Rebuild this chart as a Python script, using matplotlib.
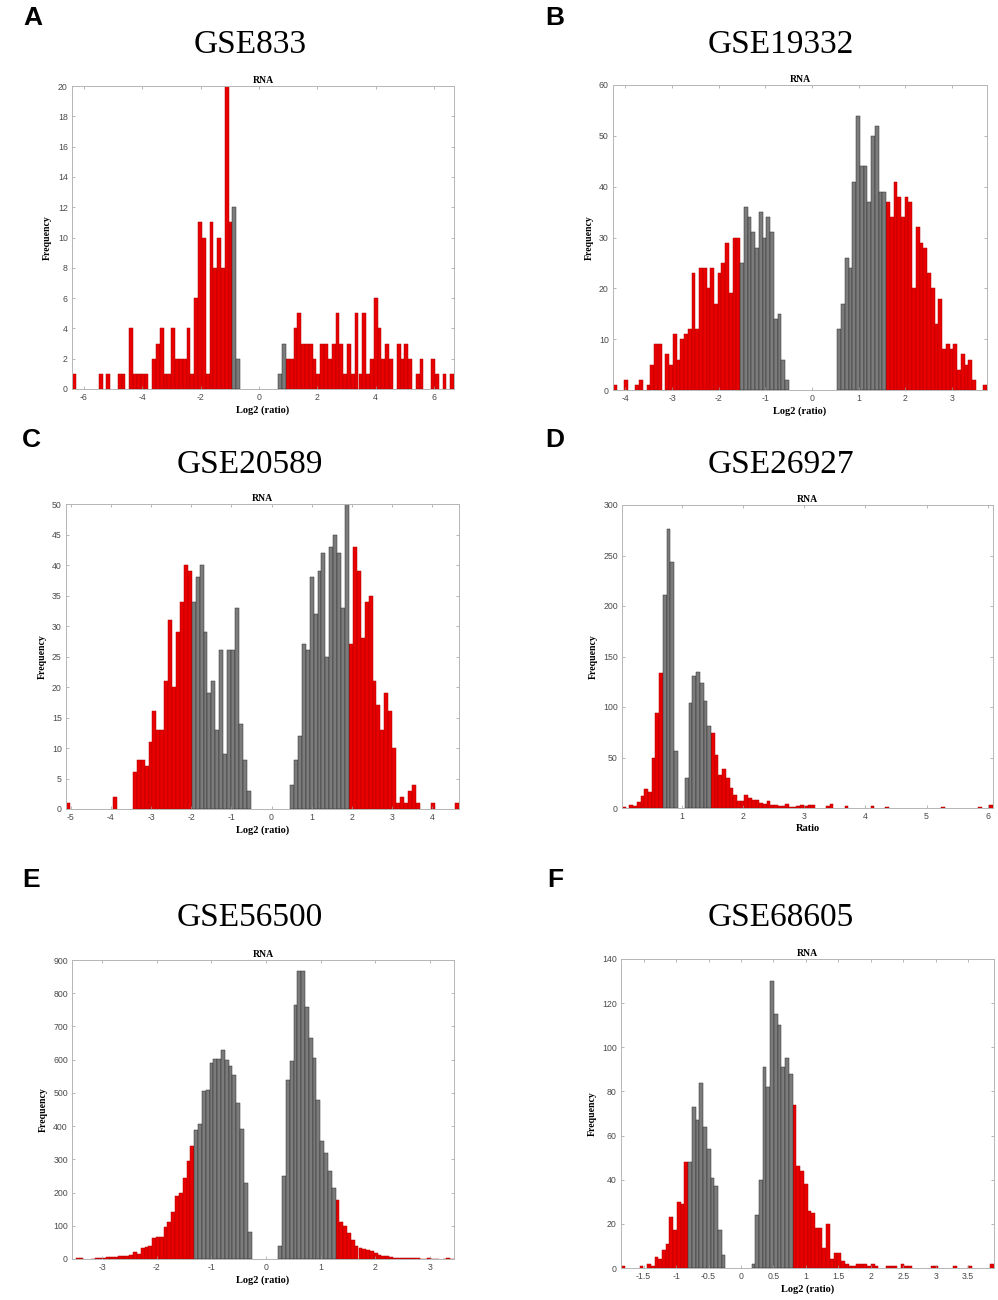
import numpy as np
import matplotlib
matplotlib.use("Agg")
import matplotlib.pyplot as plt

W, H = 998, 1300

# ---------------- data ----------------
panel_letters = ["A", "B", "C", "D", "E", "F"]
dataset_names = ["GSE833", "GSE19332", "GSE20589", "GSE26927", "GSE56500", "GSE68605"]
x_labels = ["Log2 (ratio)", "Log2 (ratio)", "Log2 (ratio)", "Ratio", "Log2 (ratio)", "Log2 (ratio)"]

# histogram ranges (min, max of data) - 100 bins each
ranges_A = (-6.40, 6.68)
ranges_B = (-4.264, 3.75)
ranges_C = (-5.12, 4.67)
ranges_D = (0.025, 6.086)
ranges_E = (-3.55, 3.44)
ranges_F = (-1.849, 3.898)

# cut-offs: bars outside (low, high) are red
cuts_A = (-0.90, 0.93)
cuts_B = (-1.54, 1.58)
cuts_C = (-1.98, 1.94)
cuts_D = (0.69, 1.48)
cuts_E = (-1.31, 1.28)
cuts_F = (-0.81, 0.795)

counts_A = [1, 0, 0, 0, 0, 0, 0, 1, 0, 1,
            0, 0, 1, 1, 0, 4, 1, 1, 1, 1,
            0, 2, 3, 4, 1, 1, 4, 2, 2, 2,
            4, 1, 6, 11, 10, 1, 11, 8, 10, 8,
            20, 11, 12, 2, 0, 0, 0, 0, 0, 0,
            0, 0, 0, 0, 1, 3, 2, 2, 4, 5,
            3, 3, 3, 2, 1, 3, 3, 2, 3, 5,
            3, 1, 3, 1, 5, 1, 5, 1, 2, 6,
            4, 2, 3, 2, 0, 3, 2, 3, 2, 0,
            1, 2, 0, 0, 2, 1, 0, 1, 0, 1]

counts_B = [1, 0, 0, 2, 0, 0, 1, 2, 0, 1,
            5, 9, 9, 0, 7, 5, 11, 6, 10, 11,
            12, 23, 12, 24, 24, 20, 24, 17, 23, 25,
            29, 19, 30, 30, 25, 36, 34, 31, 28, 35,
            30, 34, 31, 14, 15, 6, 2, 0, 0, 0,
            0, 0, 0, 0, 0, 0, 0, 0, 0, 0,
            12, 17, 26, 24, 41, 54, 44, 44, 37, 50,
            52, 39, 39, 37, 34, 41, 38, 34, 38, 37,
            20, 32, 29, 28, 23, 20, 13, 18, 8, 9,
            8, 9, 4, 7, 5, 6, 2, 0, 0, 1]

counts_C = [1, 0, 0, 0, 0, 0, 0, 0, 0, 0,
            0, 0, 2, 0, 0, 0, 0, 6, 8, 8,
            7, 11, 16, 13, 13, 21, 31, 20, 29, 34,
            40, 39, 34, 38, 40, 29, 19, 21, 13, 26,
            9, 26, 26, 33, 14, 8, 3, 0, 0, 0,
            0, 0, 0, 0, 0, 0, 0, 4, 8, 12,
            27, 26, 38, 32, 39, 42, 25, 43, 45, 42,
            33, 50, 27, 43, 39, 28, 34, 35, 21, 17,
            13, 19, 16, 10, 1, 2, 1, 3, 4, 1,
            0, 0, 0, 1, 0, 0, 0, 0, 0, 1]

counts_D = [1, 0, 3, 2, 6, 12, 19, 16, 50, 94,
            134, 211, 276, 244, 56, 0, 0, 30, 104, 131,
            135, 124, 106, 81, 74, 52, 33, 39, 30, 20,
            13, 7, 7, 13, 10, 8, 8, 5, 4, 7,
            3, 3, 2, 2, 4, 1, 1, 2, 3, 2,
            3, 3, 0, 0, 0, 2, 4, 0, 0, 0,
            2, 0, 0, 0, 0, 0, 0, 2, 0, 0,
            0, 1, 0, 0, 0, 0, 0, 0, 0, 0,
            0, 0, 0, 0, 0, 0, 1, 0, 0, 0,
            0, 0, 0, 0, 0, 0, 1, 0, 0, 3]

counts_E = [0, 2, 2, 0, 0, 1, 2, 3, 3, 5,
            7, 5, 8, 10, 8, 12, 22, 14, 33, 35,
            40, 62, 66, 66, 96, 110, 140, 190, 200, 245,
            295, 340, 388, 405, 505, 510, 590, 603, 603, 628,
            598, 580, 553, 470, 390, 230, 80, 0, 0, 0,
            0, 0, 0, 0, 38, 250, 540, 595, 765, 868,
            868, 760, 665, 605, 480, 355, 320, 265, 215, 178,
            112, 100, 78, 57, 40, 34, 29, 27, 24, 19,
            12, 9, 9, 7, 3, 4, 4, 3, 3, 2,
            2, 1, 1, 2, 1, 1, 0, 1, 2, 1]

counts_F = [1, 0, 0, 0, 0, 1, 0, 2, 1, 5,
            4, 8, 11, 23, 17, 30, 29, 48, 48, 73,
            67, 84, 64, 54, 41, 37, 17, 6, 0, 0,
            0, 0, 0, 0, 0, 2, 24, 40, 91, 82,
            130, 115, 110, 91, 95, 88, 74, 46, 44, 38,
            26, 25, 18, 18, 9, 20, 4, 7, 7, 3,
            2, 1, 1, 2, 2, 2, 1, 2, 1, 0,
            0, 1, 1, 1, 0, 2, 1, 1, 0, 0,
            0, 0, 0, 1, 1, 0, 0, 0, 0, 1,
            0, 0, 0, 1, 0, 0, 0, 0, 0, 2]

yticks_A = list(range(0, 21, 2))
yticks_B = list(range(0, 61, 10))
yticks_C = list(range(0, 51, 5))
yticks_D = list(range(0, 301, 50))
yticks_E = list(range(0, 901, 100))
yticks_F = list(range(0, 141, 20))

xticks_A = [-6, -4, -2, 0, 2, 4, 6]
xticks_B = [-4, -3, -2, -1, 0, 1, 2, 3]
xticks_C = [-5, -4, -3, -2, -1, 0, 1, 2, 3, 4]
xticks_D = [1, 2, 3, 4, 5, 6]
xticks_E = [-3, -2, -1, 0, 1, 2, 3]
xticks_F = [-1.5, -1, -0.5, 0, 0.5, 1, 1.5, 2, 2.5, 3, 3.5]

panels = [
    (counts_A, ranges_A, cuts_A, xticks_A, yticks_A),
    (counts_B, ranges_B, cuts_B, xticks_B, yticks_B),
    (counts_C, ranges_C, cuts_C, xticks_C, yticks_C),
    (counts_D, ranges_D, cuts_D, xticks_D, yticks_D),
    (counts_E, ranges_E, cuts_E, xticks_E, yticks_E),
    (counts_F, ranges_F, cuts_F, xticks_F, yticks_F),
]

# ---------------- layout (pixels) ----------------
axes_px = [(72, 86, 454, 389), (613, 85, 987, 390),
           (66, 504, 459, 809), (622, 505, 993, 808),
           (72, 960, 454, 1259), (621, 959, 994, 1268)]
title_px = [(250, 45), (781, 45), (250, 465), (781, 465), (250, 918), (781, 918)]
letter_px = [(33, 18), (555, 18), (31, 440), (555, 440), (31, 880), (555, 880)]

RED = "#e80000"
RED_EDGE = "#b40000"
GRAY = "#7b7b7b"
GRAY_EDGE = "#2e2e2e"
SERIF = ["Liberation Serif", "DejaVu Serif"]
SANS = ["Liberation Sans", "DejaVu Sans"]

fig = plt.figure(figsize=(W / 100, H / 100), dpi=100)
fig.patch.set_facecolor("white")

for k, (counts, (xmin, xmax), (lo, hi), xt, yt) in enumerate(panels):
    x0, y0, x1, y1 = axes_px[k]
    ax = fig.add_axes([x0 / W, 1 - y1 / H, (x1 - x0) / W, (y1 - y0) / H])
    counts = np.asarray(counts, dtype=float)
    edges = np.linspace(xmin, xmax, len(counts) + 1)
    width = edges[1] - edges[0]
    centers = edges[:-1] + width / 2
    nz = counts > 0
    red = ((centers < lo) | (centers > hi)) & nz
    gray = (~((centers < lo) | (centers > hi))) & nz
    ax.bar(edges[:-1][red], counts[red], width=width, align="edge",
           color=RED, edgecolor=RED_EDGE, linewidth=0.35)
    ax.bar(edges[:-1][gray], counts[gray], width=width, align="edge",
           color=GRAY, edgecolor=GRAY_EDGE, linewidth=0.35)
    ax.set_xlim(xmin, xmax)
    ax.set_ylim(yt[0], yt[-1])
    ax.set_xticks(xt)
    ax.set_xticklabels([("%g" % v) for v in xt])
    ax.set_yticks(yt)
    ax.tick_params(direction="in", top=True, right=True, length=2.5, width=0.5,
                   colors="#9a9a9a", labelcolor="#4a4a4a", labelsize=6.3, pad=3)
    for lab in ax.get_xticklabels() + ax.get_yticklabels():
        lab.set_family(SANS)
    for sp in ax.spines.values():
        sp.set_color("#b5b5b5")
        sp.set_linewidth(0.7)
    ax.set_title("RNA", fontsize=7, fontweight="bold", family=SERIF, pad=2)
    ax.set_ylabel("Frequency", fontsize=7, fontweight="bold", family=SERIF, labelpad=4)
    ax.set_xlabel(x_labels[k], fontsize=7.5, fontweight="bold", family=SERIF, labelpad=2)

    tx, ty = title_px[k]
    fig.text(tx / W, 1 - ty / H, dataset_names[k], fontsize=24, family=SERIF,
             ha="center", va="center")
    lx, ly = letter_px[k]
    fig.text(lx / W, 1 - ly / H, panel_letters[k], fontsize=19, fontweight="bold",
             family=SANS, ha="center", va="center")

fig.savefig("out.png", dpi=100, facecolor="white")
